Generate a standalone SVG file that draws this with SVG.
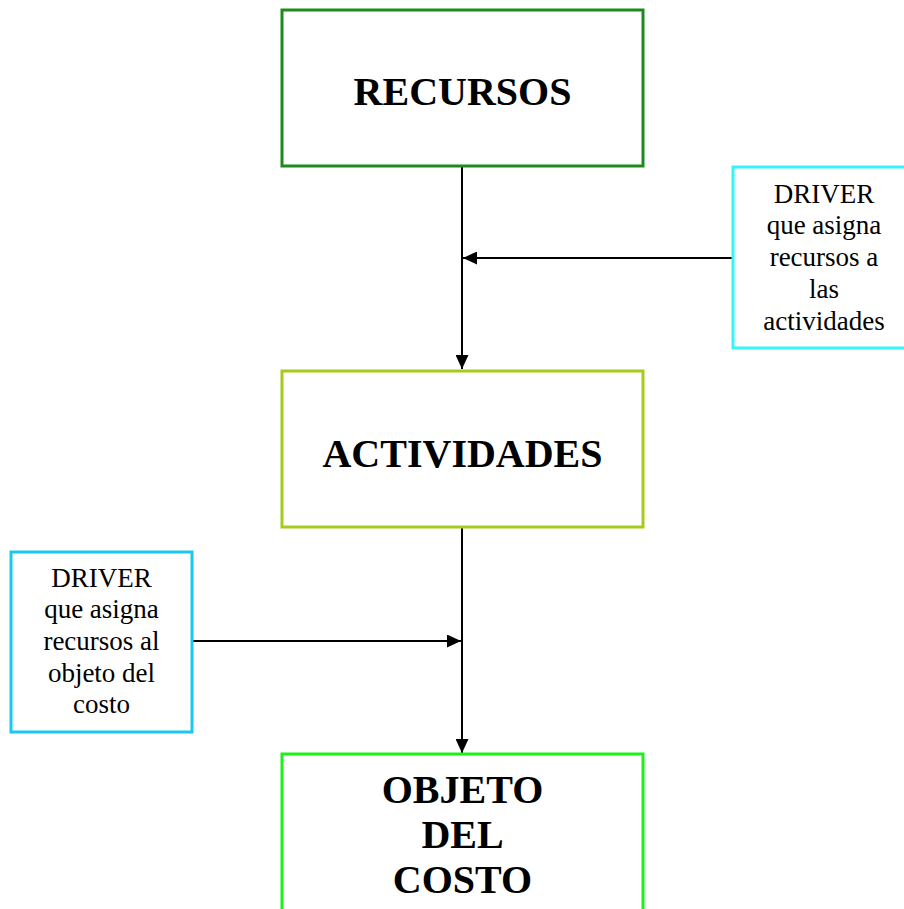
<svg xmlns="http://www.w3.org/2000/svg" width="904" height="909" viewBox="0 0 904 909">
<style>
.box{fill:#fff;stroke-width:3}
.big{font-family:"Liberation Serif","Times New Roman",serif;font-weight:bold;font-size:40px;text-anchor:middle;fill:#000}
.small{font-family:"Liberation Serif","Times New Roman",serif;font-size:27px;text-anchor:middle;fill:#000}
.conn{stroke:#000;stroke-width:2;fill:none}
</style>
<defs>
<marker id="arr" viewBox="0 0 14 13" refX="14" refY="6.5" markerWidth="14" markerHeight="13" markerUnits="userSpaceOnUse" orient="auto">
<path d="M0,0 L14,6.5 L0,13 Z" fill="#000"/>
</marker>
</defs>
<rect width="904" height="909" fill="#fff"/>
<g id="connectors">
<line class="conn" x1="462" y1="167" x2="462" y2="369" marker-end="url(#arr)"/>
<line class="conn" x1="733" y1="258" x2="463" y2="258" marker-end="url(#arr)"/>
<line class="conn" x1="462" y1="528" x2="462" y2="753" marker-end="url(#arr)"/>
<line class="conn" x1="192" y1="641" x2="461" y2="641" marker-end="url(#arr)"/>
</g>
<g id="recursos">
<rect class="box" x="282" y="10" width="361" height="156" stroke="#1E8A1E"/>
<text class="big" x="462.5" y="105">RECURSOS</text>
</g>
<g id="driver1">
<rect class="box" x="733" y="167" width="185" height="181" stroke="#33F4FF"/>
<text class="small" x="824" y="203">DRIVER</text>
<text class="small" x="824" y="234">que asigna</text>
<text class="small" x="824" y="266">recursos a</text>
<text class="small" x="824" y="298">las</text>
<text class="small" x="824" y="330">actividades</text>
</g>
<g id="actividades">
<rect class="box" x="282" y="371" width="361" height="156" stroke="#A4CC1A"/>
<text class="big" x="462.5" y="467">ACTIVIDADES</text>
</g>
<g id="driver2">
<rect class="box" x="11" y="552" width="181" height="180" stroke="#1AC8F0"/>
<text class="small" x="101.5" y="587">DRIVER</text>
<text class="small" x="101.5" y="618">que asigna</text>
<text class="small" x="101.5" y="650">recursos al</text>
<text class="small" x="101.5" y="682">objeto del</text>
<text class="small" x="101.5" y="713">costo</text>
</g>
<g id="objeto">
<rect class="box" x="282" y="754" width="361" height="170" stroke="#1AF21A"/>
<text class="big" x="462.5" y="803">OBJETO</text>
<text class="big" x="462.5" y="848">DEL</text>
<text class="big" x="462.5" y="893">COSTO</text>
</g>
</svg>
